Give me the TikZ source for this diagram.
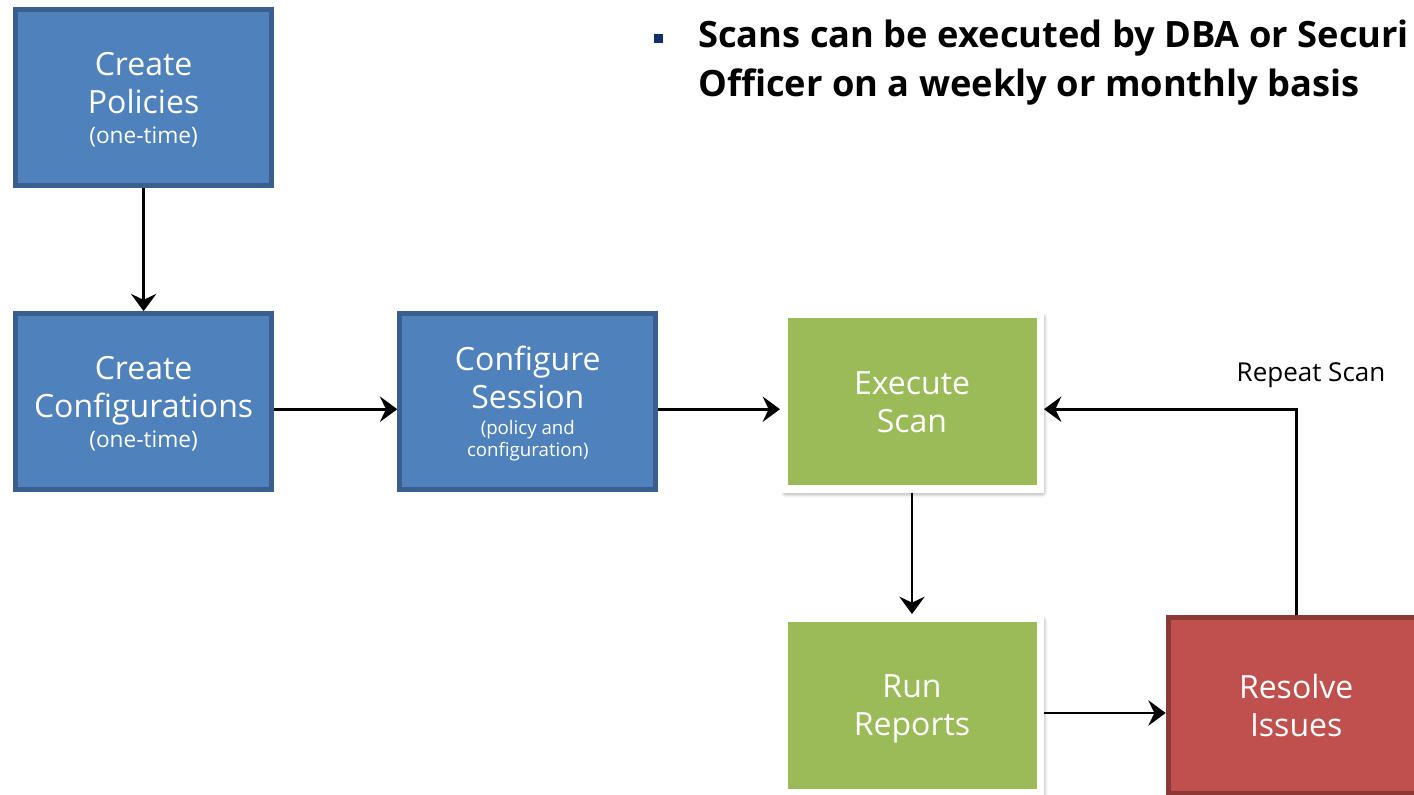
\documentclass[tikz,border=0pt]{standalone}
\usepackage{fontspec}
\setmainfont{Open Sans}
\usetikzlibrary{arrows.meta,calc,shadows.blur}

\definecolor{blueF}{HTML}{4F81BD}
\definecolor{blueD}{HTML}{3A5F8E}
\definecolor{greenF}{HTML}{9BBB59}
\definecolor{redF}{HTML}{C0504D}
\definecolor{redD}{HTML}{8C3836}
\definecolor{navy}{HTML}{142F6E}

\tikzset{
  box/.style={rectangle, inner sep=0pt, align=center, text=white,
    text depth=0pt,
    minimum width={256*0.75pt}, minimum height={176*0.75pt},
    font=\fontsize{24}{28.5}\selectfont},
  bluebox/.style={box, fill=blueF, draw=blueD, line width={5*0.75pt}},
  redbox/.style={box, fill=redF, draw=redD, line width={5*0.75pt}},
  greenbox/.style={box, fill=greenF, draw=white, line width={7.5*0.75pt},
    minimum width={256.5*0.75pt}, minimum height={174.5*0.75pt},
    blur shadow={shadow xshift=1.5pt, shadow yshift=-2.5pt,
      shadow blur radius=4pt, shadow opacity=60}},
  arr/.style={draw=black, line width=2pt,
    -{Stealth[length=13pt, width=19pt, inset=4.5pt]}},
  headline/.style={anchor=base west, inner sep=0pt,
    font=\fontsize{27.2}{36}\selectfont\bfseries},
}

\begin{document}
\begin{tikzpicture}[x=0.75pt, y=-0.75pt]
  \useasboundingbox (0,0) rectangle (1414,794);
  \clip (0,0) rectangle (1414,794);

  % bullet point at the top
  \node[fill=navy, inner sep=0pt, minimum size={9*0.75pt}] (bullet) at (658.7,38.3) {};
  \node[headline] (head1) at (698,47) {Scans can be executed by DBA or Securi};
  \node[headline] (head2) at (698,96) {Officer on a weekly or monthly basis};

  % one-time setup
  \node[bluebox] (pol) at (143.6,97.5)
    {Create\\Policies\\[-6pt]{\fontsize{17}{20}\selectfont (one-time)}};
  \node[bluebox] (conf) at (143.6,401.7)
    {Create\\Configurations\\[-6pt]{\fontsize{17}{20}\selectfont (one-time)}};
  \node[bluebox] (sess) at (527.8,401.7)
    {Configure\\Session\\[-9pt]{\fontsize{14}{16.5}\selectfont (policy and}\\[-12pt]{\fontsize{14}{16.5}\selectfont configuration)}};

  % recurring scan cycle
  \node[greenbox] (scan) at (912,401.7) {Execute\\Scan};
  \node[greenbox] (rep) at (912,705) {Run\\Reports};
  \node[redbox] (res) at (1296.2,705.8) {Resolve\\Issues};

  % connectors
  \draw[arr] (pol.south) -- (conf.north);
  \draw[arr] ($(conf.east)+(0,7.5)$) coordinate (c1) -- (c1 -| sess.west);
  \draw[arr] ($(sess.east)+(0,7.5)$) coordinate (s1) -- (s1 -| scan.west);
  \draw[arr] (scan.south) -- (rep.north);
  \draw[arr] ($(rep.east)+(0,8)$) coordinate (r1) -- (r1 -| res.west);
  \draw[arr] (res.north) |- ($(scan.east)+(0,7.5)$);

  \node[anchor=base, inner sep=0pt, font=\fontsize{19.5}{24}\selectfont] (lbl) at (1311,381.7) {Repeat Scan};
\end{tikzpicture}
\end{document}
